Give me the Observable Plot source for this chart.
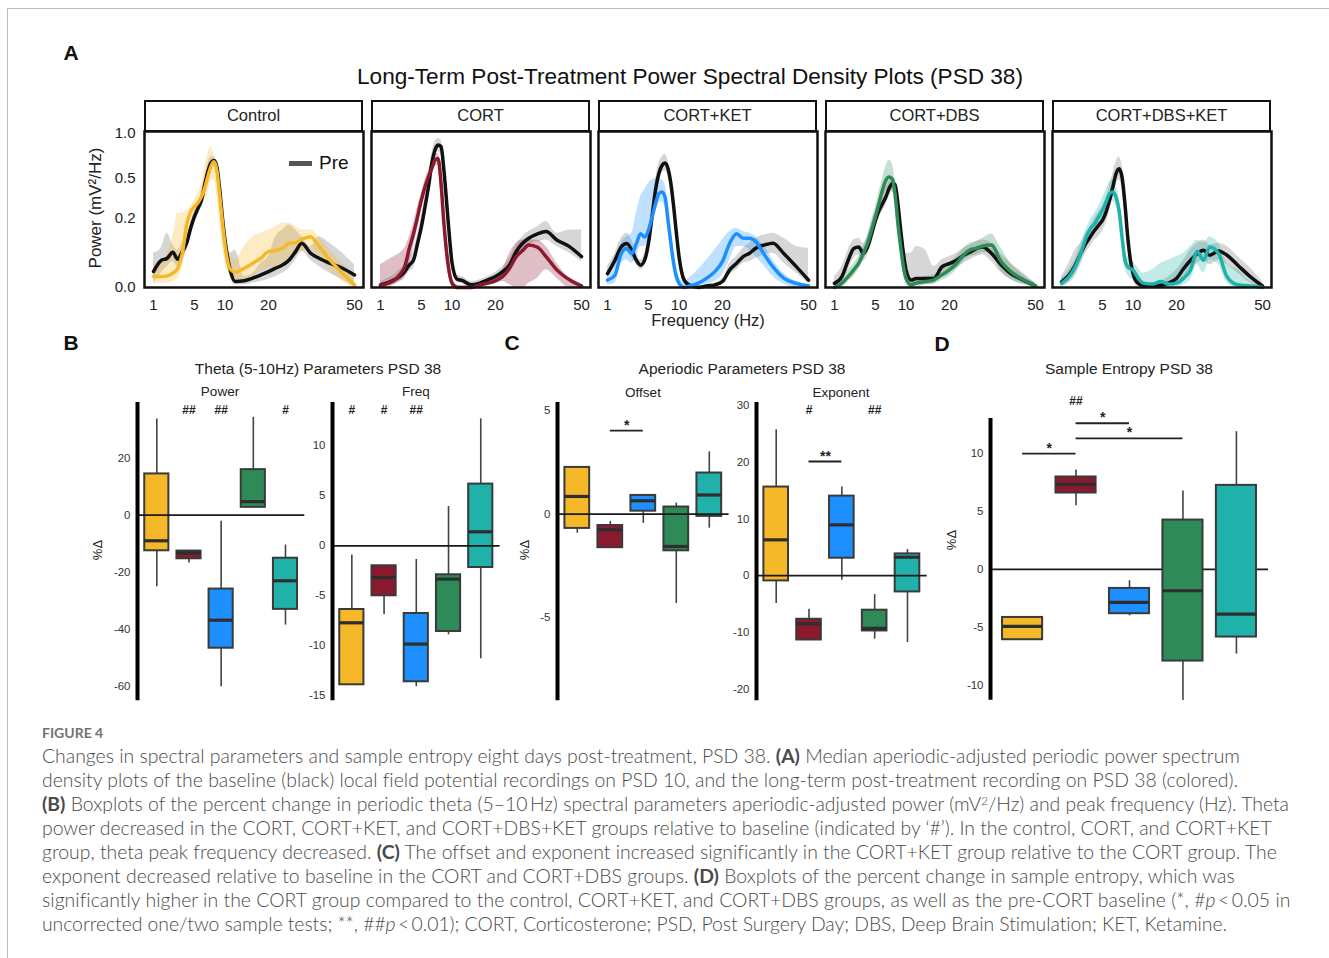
<!DOCTYPE html>
<html><head><meta charset="utf-8">
<script src="https://cdn.jsdelivr.net/npm/d3@7"></script>
<script src="https://cdn.jsdelivr.net/npm/@observablehq/plot@0.6"></script>
<style>
body{margin:0;background:#fff;}
#fig{position:relative;width:1329px;height:958px;overflow:hidden;font-family:"Liberation Sans",Arial,sans-serif;color:#111;background:#fff;}
.t{position:absolute;white-space:nowrap;line-height:1.15;}
.cap{position:absolute;left:42px;font-family:Lato,"Open Sans",sans-serif;font-weight:300;color:#4a4a4a;font-size:17.5px;white-space:nowrap;line-height:24px;height:24px;display:inline-block;}
.cap b{font-weight:700;}
.cap sup{font-size:0.6em;line-height:0;vertical-align:0.55em;}
#fig svg{position:absolute;}
</style></head><body><div id="fig"></div><script>
// ---------- categories & colours ----------
const groups = ["Control", "CORT", "CORT+KET", "CORT+DBS", "CORT+DBS+KET"];
const groupColors = ["#F5B829", "#8C1A2E", "#1E8FFF", "#2E8B57", "#20B2AA"];

// ---------- Panel A: power spectral density (frequency in Hz, power in mV^2/Hz) ----------
const freqs = [1, 1.5, 2, 2.5, 3, 3.5, 4, 4.5, 5, 5.5, 6, 6.5, 7, 7.5, 8, 8.5, 9, 9.5, 10, 11, 12, 14, 16, 18, 20, 22, 24, 26, 28, 30, 33, 36, 40, 45, 50];
const xTicksA = [1, 5, 10, 20, 50];
const yTicksA = [0, 0.2, 0.5, 1.0];

const controlPre   = [0.0107,0.0306,0.0361,0.0524,0.0337,0.0544,0.0825,0.148,0.212,0.264,0.323,0.448,0.571,0.656,0.681,0.611,0.406,0.206,0.0914,0.0131,0.0015,0.0019,0.0037,0.0067,0.0107,0.0157,0.0216,0.0321,0.0544,0.0825,0.0495,0.0361,0.0249,0.0157,0.0067];
const controlPreLo = [0.0008,0.0086,0.0185,0.0284,0.0185,0.0321,0.0544,0.109,0.174,0.222,0.299,0.428,0.549,0.615,0.615,0.533,0.348,0.174,0.0825,0.0051,0.0003,0.0003,0.0008,0.0015,0.0029,0.0051,0.0086,0.0157,0.0321,0.0544,0.0321,0.0185,0.0086,0.0025,0];
const controlPreHi = [0.0495,0.065,0.124,0.0764,0.0596,0.0825,0.109,0.174,0.243,0.299,0.387,0.517,0.649,0.720,0.720,0.649,0.457,0.253,0.140,0.0495,0.0596,0.0051,0.0086,0.0249,0.0403,0.109,0.140,0.165,0.140,0.109,0.0706,0.109,0.0825,0.0495,0.0216];
const controlPost   = [0.0051,0.0051,0.0057,0.0086,0.0157,0.0495,0.165,0.243,0.275,0.303,0.348,0.420,0.524,0.621,0.667,0.571,0.353,0.177,0.0729,0.0141,0.0099,0.0157,0.0249,0.0361,0.0544,0.0575,0.065,0.0825,0.085,0.098,0.109,0.0706,0.0321,0.0086,0.0003];
const controlPostLo = [0.0008,0.0008,0.0008,0.0015,0.0037,0.0185,0.0954,0.174,0.212,0.243,0.275,0.323,0.374,0.487,0.487,0.348,0.174,0.0706,0.0249,0.0051,0.0015,0.0025,0.0051,0.0107,0.0157,0.0185,0.0216,0.0321,0.0403,0.0544,0.065,0.0403,0.0131,0.0015,0];
const controlPostHi = [0.0249,0.0284,0.0495,0.109,0.232,0.232,0.253,0.275,0.323,0.374,0.457,0.615,0.758,0.835,0.739,0.632,0.428,0.232,0.109,0.0495,0.0321,0.0706,0.109,0.124,0.140,0.156,0.174,0.174,0.156,0.140,0.140,0.109,0.0596,0.0249,0.0051];

const cortPre   = [0.0003,0.0010,0.0025,0.0051,0.0107,0.0216,0.0321,0.0825,0.156,0.275,0.428,0.649,0.796,0.855,0.835,0.581,0.299,0.109,0.0249,0.0029,0.0021,0.0003,0.0008,0.0025,0.0051,0.0107,0.0216,0.0544,0.0825,0.102,0.121,0.132,0.0954,0.0706,0.0403];
const cortPreLo = [0,0.0001,0.0006,0.0015,0.0037,0.0107,0.0157,0.0544,0.116,0.222,0.361,0.565,0.720,0.777,0.739,0.502,0.243,0.0825,0.0157,0.0010,0.0006,0,0,0.0006,0.0019,0.0051,0.0107,0.0361,0.0596,0.0764,0.0888,0.0954,0.0706,0.0495,0.0284];
const cortPreHi = [0.0015,0.0037,0.0067,0.0131,0.0216,0.0403,0.0596,0.124,0.212,0.348,0.517,0.758,0.895,0.936,0.915,0.667,0.348,0.140,0.0403,0.0067,0.0051,0.0015,0.0025,0.0051,0.0094,0.0185,0.0361,0.0764,0.109,0.132,0.156,0.183,0.124,0.140,0.140];
const cortPost   = [0.0001,0.0008,0.0021,0.0067,0.0185,0.065,0.124,0.212,0.323,0.428,0.517,0.598,0.684,0.702,0.457,0.174,0.0495,0.0086,0.0008,0,0,0,0.0003,0.0008,0.0019,0.0051,0.0157,0.0403,0.0575,0.0764,0.0683,0.0403,0.0131,0.0025,0.0001];
const cortPostLo = [0,0,0.0003,0.0015,0.0051,0.0249,0.0706,0.148,0.264,0.374,0.457,0.533,0.615,0.632,0.374,0.124,0.0249,0.0025,0,0,0,0,0,0.0002,0.0008,0.0015,0.0003,0,0,0.0008,0.0037,0.0131,0.0037,0,0];
const cortPostHi = [0.0216,0.0321,0.0403,0.0495,0.065,0.109,0.174,0.275,0.374,0.487,0.581,0.684,0.758,0.758,0.549,0.253,0.0825,0.0185,0.0025,0.0003,0.0001,0.0003,0.0008,0.0025,0.0051,0.0131,0.0495,0.0825,0.0954,0.0954,0.0954,0.0706,0.0249,0.0037,0.0003];

const ketPre   = [0.0082,0.0314,0.0694,0.0813,0.0585,0.0314,0.0209,0.0314,0.0813,0.210,0.398,0.546,0.628,0.653,0.595,0.454,0.273,0.122,0.0395,0.0023,0.0003,0,0.0001,0.0003,0.0015,0.0131,0.0249,0.0403,0.0495,0.065,0.0764,0.0825,0.0485,0.0179,0.0023];
const ketPreLo = [0.0037,0.0185,0.0448,0.0544,0.0361,0.0216,0.0131,0.0216,0.0544,0.156,0.323,0.457,0.549,0.575,0.517,0.387,0.222,0.0954,0.0249,0.0008,0,0,0,0,0.0005,0.0067,0.0131,0.0249,0.0284,0.0361,0.0448,0.0495,0.0249,0.0086,0.0008];
const ketPreHi = [0.0185,0.0495,0.102,0.124,0.0954,0.0495,0.0321,0.0495,0.124,0.275,0.487,0.649,0.720,0.750,0.684,0.533,0.335,0.156,0.0596,0.0051,0.0008,0.0001,0.0003,0.0008,0.0037,0.0249,0.0403,0.065,0.0825,0.102,0.116,0.124,0.102,0.0706,0.065];
const ketPost   = [0.0023,0.0064,0.0485,0.0639,0.0485,0.0813,0.122,0.108,0.138,0.210,0.296,0.371,0.384,0.345,0.190,0.0813,0.0242,0.0048,0.0007,0,0.0001,0.0008,0.0037,0.0107,0.0284,0.0825,0.122,0.102,0.102,0.0888,0.0448,0.0179,0.0037,0.0007,0.0001];
const ketPostLo = [0.0003,0.0008,0.0249,0.0321,0.0249,0.0403,0.0706,0.0706,0.0954,0.156,0.232,0.299,0.311,0.275,0.140,0.0495,0.0107,0.0015,0.0001,0,0,0,0.0003,0.0015,0.0067,0.0321,0.0706,0.0706,0.0596,0.0403,0.0185,0.0051,0.0005,0,0];
const ketPostHi = [0.0131,0.0249,0.0825,0.109,0.124,0.232,0.348,0.400,0.457,0.487,0.502,0.502,0.487,0.443,0.275,0.124,0.0403,0.0131,0.0037,0.0015,0.0037,0.0131,0.0321,0.0596,0.0954,0.132,0.148,0.132,0.124,0.109,0.0706,0.0321,0.0086,0.0015,0.0003];

const dbsPre   = [0.0007,0.0051,0.0314,0.0639,0.0694,0.0485,0.0694,0.122,0.190,0.251,0.296,0.345,0.411,0.454,0.448,0.296,0.138,0.0485,0.0126,0.0023,0.0034,0.0034,0.0034,0.0179,0.0242,0.0314,0.0439,0.0534,0.0639,0.0694,0.0485,0.0242,0.0082,0.0023,0.0001];
const dbsPreLo = [0,0.0008,0.0131,0.0361,0.0448,0.0284,0.0448,0.0825,0.140,0.202,0.243,0.287,0.348,0.387,0.374,0.232,0.0954,0.0249,0.0025,0.0003,0.0003,0.0003,0.0005,0.0067,0.0107,0.0157,0.0249,0.0321,0.0403,0.0448,0.0284,0.0107,0.0025,0.0003,0];
const dbsPreHi = [0.0051,0.0185,0.0596,0.0954,0.102,0.0825,0.109,0.174,0.243,0.311,0.361,0.414,0.472,0.502,0.502,0.374,0.192,0.0954,0.0495,0.0495,0.0706,0.0596,0.0185,0.0321,0.0403,0.0495,0.065,0.0764,0.0888,0.0954,0.0825,0.0495,0.0249,0.0086,0.0008];
const dbsPost   = [0,0.0008,0.0051,0.0131,0.0249,0.0495,0.0825,0.140,0.212,0.299,0.400,0.484,0.514,0.499,0.371,0.172,0.0694,0.0179,0.0034,0.0003,0.0008,0.0015,0.0025,0.0067,0.0131,0.0249,0.0448,0.0596,0.065,0.0729,0.0764,0.0321,0.0107,0.0025,0.0001];
const dbsPostLo = [0,0,0.0015,0.0051,0.0131,0.0321,0.0544,0.0954,0.156,0.232,0.323,0.387,0.414,0.400,0.287,0.116,0.0403,0.0086,0.0008,0,0,0.0003,0.0006,0.0021,0.0051,0.0131,0.0284,0.0403,0.0448,0.0514,0.0495,0.0131,0.0029,0.0005,0];
const dbsPostHi = [0.0008,0.0037,0.0131,0.0249,0.0403,0.0706,0.116,0.192,0.275,0.387,0.502,0.615,0.684,0.649,0.487,0.253,0.109,0.0321,0.0086,0.0015,0.0029,0.0051,0.0067,0.0157,0.0249,0.0403,0.065,0.0825,0.0888,0.102,0.121,0.0706,0.0249,0.0067,0.0008];

const dkPre   = [0.0013,0.0064,0.0209,0.0485,0.0813,0.108,0.138,0.163,0.190,0.240,0.320,0.425,0.546,0.595,0.514,0.296,0.108,0.0314,0.0082,0.0007,0.0002,0.0001,0.0002,0.0009,0.0034,0.0152,0.0314,0.0485,0.0585,0.0439,0.0564,0.0439,0.0209,0.0048,0.0001];
const dkPreLo = [0.0001,0.0008,0.0051,0.0216,0.0495,0.0706,0.0954,0.109,0.132,0.174,0.243,0.335,0.443,0.487,0.414,0.232,0.0706,0.0157,0.0025,0,0,0,0,0.0001,0.0006,0.0051,0.0141,0.0249,0.0321,0.0216,0.0321,0.0216,0.0086,0.0008,0];
const dkPreHi = [0.0051,0.0249,0.0596,0.0825,0.124,0.156,0.202,0.243,0.275,0.335,0.428,0.549,0.667,0.720,0.632,0.374,0.156,0.0544,0.0185,0.0037,0.0015,0.0008,0.0015,0.0051,0.0131,0.0321,0.0596,0.0825,0.0954,0.0764,0.0825,0.0706,0.0403,0.0157,0.0015];
const dkPost   = [0.0007,0.0048,0.0179,0.0485,0.101,0.146,0.172,0.210,0.251,0.308,0.371,0.384,0.345,0.251,0.108,0.0314,0.0179,0.0152,0.0126,0.0037,0.0008,0.0005,0.0015,0.0005,0.0008,0.0037,0.0131,0.0544,0.0314,0.0694,0.0485,0.0048,0.0003,0.0001,0];
const dkPostLo = [0,0.0015,0.0086,0.0284,0.0706,0.109,0.132,0.156,0.192,0.243,0.299,0.311,0.275,0.192,0.0706,0.0157,0.0067,0.0037,0.0025,0.0003,0,0,0,0,0,0.0003,0.0025,0.0216,0.0086,0.0321,0.0216,0.0008,0,0,0];
const dkPostHi = [0.0037,0.0131,0.0361,0.0825,0.140,0.192,0.232,0.275,0.335,0.400,0.472,0.487,0.443,0.335,0.165,0.0596,0.0403,0.0321,0.0284,0.0157,0.0086,0.0131,0.0249,0.0321,0.0403,0.0495,0.0706,0.0954,0.0825,0.109,0.0825,0.0249,0.0131,0.0015,0.0003];

// ---------- Panels B–D: percent change box statistics [min, q1, median, q3, max] ----------
const thetaPower = [[-25.1,-12.5,-9.0,14.4,33.6],[-16.8,-15.3,-13.3,-12.6,-12.6],[-60.1,-46.6,-36.8,-25.9,-2.2],[2.7,2.7,4.7,15.9,34.2],[-38.5,-33.0,-23.0,-15.1,-10.5]];
const thetaFreq  = [[-13.9,-13.9,-7.7,-6.37,-0.93],[-6.9,-5.0,-3.17,-2.0,-2.0],[-14.1,-13.6,-9.83,-6.77,-1.37],[-8.9,-8.57,-3.33,-2.9,3.93],[-11.3,-2.17,1.4,6.17,12.7]];
const offsetStats   = [[-0.92,-0.69,0.85,2.25,2.25],[-1.62,-1.62,-0.76,-0.55,-0.35],[-0.45,0.14,0.64,0.9,0.9],[-4.31,-1.77,-1.56,0.34,0.53],[-0.68,-0.11,0.92,1.98,3.0]];
const exponentStats = [[-4.9,-0.94,6.3,15.6,25.7],[-11.35,-11.35,-8.5,-7.7,-5.94],[-0.82,3.06,8.94,14.0,15.6],[-11.2,-9.76,-9.3,-6.1,-3.35],[-11.8,-2.88,3.24,3.82,4.6]];
const entropyStats  = [[-6.06,-6.06,-4.91,-4.14,-4.14],[5.49,6.58,7.33,7.96,8.56],[-4.0,-3.82,-2.84,-1.64,-0.98],[-11.3,-7.9,-1.84,4.25,6.75],[-7.3,-5.83,-3.85,7.24,11.87]];

// significance marks vs. baseline (#) and between groups (*)
const powerHashes    = ["", "##", "##", "", "#"];
const freqHashes     = ["#", "#", "##", "", ""];
const exponentHashes = ["", "#", "", "##", ""];
const entropyHashes  = ["", "##", "", "", ""];
const offsetBrackets   = [{from: 1, to: 2, y: 4.02, label: "*"}];
const exponentBrackets = [{from: 1, to: 2, y: 20.1, label: "**"}];
const entropyBrackets  = [{from: 0, to: 1, y: 9.97, label: "*"}, {from: 1, to: 2, y: 12.59, label: "*"}, {from: 1, to: 3, y: 11.29, label: "*"}];

const powerTicks = [20, 0, -20, -40, -60];
const freqTicks = [10, 5, 0, -5, -10, -15];
const offsetTicks = [5, 0, -5];
const exponentTicks = [30, 20, 10, 0, -10, -20];
const entropyTicks = [10, 5, 0, -5, -10];

// ---------- build ----------
const fig = document.getElementById("fig");
const FONT = "Liberation Sans, Arial, sans-serif";

function txt(html, x, y, o = {}) {
  const d = document.createElement("div");
  d.className = "t";
  d.innerHTML = html;
  d.style.left = x + "px"; d.style.top = y + "px";
  d.style.fontSize = (o.size || 15) + "px";
  if (o.weight) d.style.fontWeight = o.weight;
  if (o.color) d.style.color = o.color;
  d.style.transform = "translate(-50%,-50%)" + (o.rotate ? ` rotate(${o.rotate}deg)` : "");
  fig.appendChild(d);
  return d;
}

// page border
const border = document.createElement("div");
Object.assign(border.style, {position: "absolute", left: "7px", top: "8px", width: "1340px", height: "1000px", borderTop: "1px solid #bdbdbd", borderLeft: "1px solid #bdbdbd"});
fig.appendChild(border);

// Panel A data table
const pre = [controlPre, cortPre, ketPre, dbsPre, dkPre];
const preLo = [controlPreLo, cortPreLo, ketPreLo, dbsPreLo, dkPreLo];
const preHi = [controlPreHi, cortPreHi, ketPreHi, dbsPreHi, dkPreHi];
const post = [controlPost, cortPost, ketPost, dbsPost, dkPost];
const postLo = [controlPostLo, cortPostLo, ketPostLo, dbsPostLo, dkPostLo];
const postHi = [controlPostHi, cortPostHi, ketPostHi, dbsPostHi, dkPostHi];
const psd = groups.flatMap((g, gi) => freqs.map((f, i) => ({
  group: g, freq: f, pre: pre[gi][i], preLo: preLo[gi][i], preHi: preHi[gi][i],
  post: post[gi][i], postLo: postLo[gi][i], postHi: postHi[gi][i]
})));

const curve = "monotone-x";
const chartA = Plot.plot({
  width: 1329, height: 330,
  marginLeft: 142, marginRight: 56, marginTop: 131, marginBottom: 43,
  style: {background: "transparent", fontFamily: FONT, fontSize: "15px", color: "#222", overflow: "visible"},
  fx: {domain: groups, axis: null, paddingInner: 0.037, paddingOuter: 0},
  x: {type: "sqrt", domain: [1, 50], ticks: xTicksA, tickSize: 0, tickPadding: 12, label: null, insetLeft: 9, insetRight: 9},
  y: {type: "sqrt", domain: [0, 1], ticks: yTicksA, tickFormat: d3.format(".1f"), tickSize: 0, tickPadding: 9, label: null, insetTop: 2},
  color: {domain: groups, range: groupColors},
  marks: [
    Plot.areaY(psd, {fx: "group", x: "freq", y1: "preLo", y2: "preHi", fill: "#8a8a8a", fillOpacity: 0.35, curve}),
    Plot.areaY(psd, {fx: "group", x: "freq", y1: "postLo", y2: "postHi", fill: "group", fillOpacity: 0.28, curve}),
    Plot.lineY(psd, {fx: "group", x: "freq", y: "pre", stroke: "#111", strokeWidth: 3.5, curve}),
    Plot.lineY(psd, {fx: "group", x: "freq", y: "post", stroke: "group", strokeWidth: 3.5, curve}),
    Plot.frame({stroke: "#111", strokeWidth: 2.5})
  ]
});
chartA.style.left = "0px"; chartA.style.top = "0px";
fig.appendChild(chartA);

// facet header strips, positioned from Plot's fx scale
const fxs = chartA.scale("fx");
groups.forEach(g => {
  const h = document.createElement("div");
  Object.assign(h.style, {position: "absolute", left: fxs.apply(g) + "px", top: "100px", width: fxs.bandwidth + "px", height: "32px",
    border: "2.5px solid #111", boxSizing: "border-box", textAlign: "center", lineHeight: "27px", fontSize: "16.5px", color: "#222", background: "#fff"});
  h.textContent = g;
  fig.appendChild(h);
});

txt("A", 71, 53, {size: 21, weight: 700});
txt("Long-Term Post-Treatment Power Spectral Density Plots (PSD 38)", 690, 77, {size: 22.6, color: "#111"});
txt("Power (mV²/Hz)", 96, 208, {size: 17, rotate: -90, color: "#222"});
txt("Frequency (Hz)", 708, 320, {size: 16.5, color: "#222"});
// legend
const leg = document.createElement("div");
Object.assign(leg.style, {position: "absolute", left: "289px", top: "160.5px", width: "23px", height: "5px", background: "#555"});
fig.appendChild(leg);
const legT = txt("Pre", 0, 163, {size: 19, color: "#111"});
legT.style.transform = "translate(0,-50%)"; legT.style.left = "319px";

// ---------- box panels ----------
const boxXDomain = [-0.6, 4.6];
const boxHalf = 0.375;
function boxPanel({stats, hashes = [], brackets = [], frame: [x0, x1, y0, y1], domain, ticks, hashDy = 2.5, lineOnTop = true}) {
  const ml = 40, mr = 8, mt = 30, mb = 10;
  const rows = groups.map((g, i) => ({i, group: g, min: stats[i][0], q1: stats[i][1], med: stats[i][2], q3: stats[i][3], max: stats[i][4]}));
  const hashRows = hashes.map((label, i) => ({i, label})).filter(d => d.label);
  const zero = Plot.ruleY([0], {stroke: "#1a1a1a", strokeWidth: 1.8});
  const chart = Plot.plot({
    width: ml + (x1 - x0) + mr, height: mt + (y1 - y0) + mb,
    marginLeft: ml, marginRight: mr, marginTop: mt, marginBottom: mb,
    style: {background: "transparent", fontFamily: FONT, fontSize: "11.5px", color: "#333", overflow: "visible"},
    x: {type: "linear", domain: boxXDomain, axis: null},
    y: {domain, ticks, tickSize: 0, tickPadding: 7, tickFormat: d => String(d), label: null},
    color: {domain: groups, range: groupColors},
    marks: [
      lineOnTop ? null : zero,
      Plot.ruleX(rows, {x: "i", y1: "min", y2: "q1", stroke: "#444", strokeWidth: 1.6}),
      Plot.ruleX(rows, {x: "i", y1: "q3", y2: "max", stroke: "#444", strokeWidth: 1.6}),
      Plot.rectY(rows, {x1: d => d.i - boxHalf, x2: d => d.i + boxHalf, y1: "q1", y2: "q3", fill: "group", stroke: "#3a3a3a", strokeWidth: 2}),
      Plot.ruleY(rows, {x1: d => d.i - boxHalf, x2: d => d.i + boxHalf, y: "med", stroke: "#2e2e2e", strokeWidth: 3.2}),
      lineOnTop ? zero : null,
      Plot.ruleX([boxXDomain[0]], {stroke: "#000", strokeWidth: 4}),
      Plot.text(hashRows, {x: "i", text: "label", frameAnchor: "top", dy: hashDy, fontWeight: "bold", fontSize: 12, fill: "#222"}),
      Plot.ruleY(brackets, {x1: "from", x2: "to", y: "y", stroke: "#222", strokeWidth: 1.8}),
      Plot.text(brackets, {x: d => (d.from + d.to) / 2, y: "y", text: "label", dy: -5.5, fontSize: 14, fontWeight: "bold", fill: "#222"})
    ]
  });
  chart.style.left = (x0 - ml) + "px"; chart.style.top = (y0 - mt) + "px";
  fig.appendChild(chart);
}

boxPanel({stats: thetaPower, hashes: powerHashes, frame: [136.7, 304, 401.7, 700], domain: [-65, 39.4], ticks: powerTicks});
boxPanel({stats: thetaFreq, hashes: freqHashes, frame: [331.7, 499.3, 401.7, 700], domain: [-15.5, 14.33], ticks: freqTicks});
boxPanel({stats: offsetStats, brackets: offsetBrackets, frame: [556.7, 728.3, 401.7, 700], domain: [-9.0, 5.38], ticks: offsetTicks});
boxPanel({stats: exponentStats, hashes: exponentHashes, brackets: exponentBrackets, frame: [756, 926.7, 401.7, 700], domain: [-22.06, 30.5], ticks: exponentTicks});
boxPanel({stats: entropyStats, hashes: entropyHashes, brackets: entropyBrackets, frame: [990, 1268, 418.3, 700], domain: [-11.27, 13.0], ticks: entropyTicks, hashDy: -22, lineOnTop: false});

txt("B", 71, 343, {size: 21, weight: 700});
txt("C", 512, 343, {size: 21, weight: 700});
txt("D", 942, 344, {size: 21, weight: 700});
txt("Theta (5-10Hz) Parameters PSD 38", 318, 369, {size: 15.5, color: "#222"});
txt("Aperiodic Parameters PSD 38", 742, 369, {size: 15.5, color: "#222"});
txt("Sample Entropy PSD 38", 1129, 369, {size: 15.5, color: "#222"});
txt("Power", 220, 392, {size: 13.5, color: "#222"});
txt("Freq", 416, 392, {size: 13.5, color: "#222"});
txt("Offset", 643, 393, {size: 13.5, color: "#222"});
txt("Exponent", 841, 393, {size: 13.5, color: "#222"});
txt("%Δ", 98, 550, {size: 13, rotate: -90, color: "#222"});
txt("%Δ", 525, 550, {size: 13, rotate: -90, color: "#222"});
txt("%Δ", 952, 540, {size: 13, rotate: -90, color: "#222"});

// ---------- caption ----------
const figLabel = document.createElement("div");
Object.assign(figLabel.style, {position: "absolute", left: "42px", top: "724px", fontFamily: "Lato, sans-serif", fontWeight: "700", fontSize: "14px", color: "#737373", lineHeight: "18px"});
figLabel.textContent = "FIGURE 4";
fig.appendChild(figLabel);

const captionLines = [
  "Changes in spectral parameters and sample entropy eight days post-treatment, PSD 38. <b>(A)</b> Median aperiodic-adjusted periodic power spectrum",
  "density plots of the baseline (black) local field potential recordings on PSD 10, and the long-term post-treatment recording on PSD 38 (colored).",
  "<b>(B)</b> Boxplots of the percent change in periodic theta (5–10&#8201;Hz) spectral parameters aperiodic-adjusted power (mV<sup>2</sup>/Hz) and peak frequency (Hz). Theta",
  "power decreased in the CORT, CORT+KET, and CORT+DBS+KET groups relative to baseline (indicated by ‘#’). In the control, CORT, and CORT+KET",
  "group, theta peak frequency decreased. <b>(C)</b> The offset and exponent increased significantly in the CORT+KET group relative to the CORT group. The",
  "exponent decreased relative to baseline in the CORT and CORT+DBS groups. <b>(D)</b> Boxplots of the percent change in sample entropy, which was",
  "significantly higher in the CORT group compared to the control, CORT+KET, and CORT+DBS groups, as well as the pre-CORT baseline (*, #<i>p</i>&#8201;&lt;&#8201;0.05 in",
  "uncorrected one/two sample tests; **, ##<i>p</i>&#8201;&lt;&#8201;0.01); CORT, Corticosterone; PSD, Post Surgery Day; DBS, Deep Brain Stimulation; KET, Ketamine."
];
const captionRight = [1240, 1238, 1289, 1272, 1276, 1235, 1290, 1228];
const capDivs = captionLines.map((html, k) => {
  const d = document.createElement("div");
  d.className = "cap";
  d.style.top = (744 + 24 * k) + "px";
  d.innerHTML = html;
  fig.appendChild(d);
  return d;
});
// common font size scaled to the original line lengths, then a small per-line spacing fix
const base = 17.5;
const ratio = d3.mean(capDivs, (d, k) => (captionRight[k] - 42) / d.getBoundingClientRect().width);
const size = Math.min(20, base * ratio);
capDivs.forEach((d, k) => {
  d.style.fontSize = size.toFixed(2) + "px";
  const w = d.getBoundingClientRect().width;
  const n = d.textContent.length;
  d.style.letterSpacing = ((captionRight[k] - 42 - w) / n).toFixed(3) + "px";
});
</script></body></html>
